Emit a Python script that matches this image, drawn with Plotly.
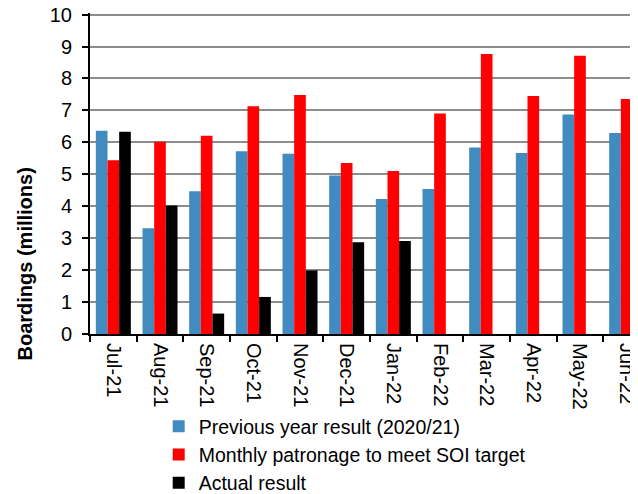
import plotly.graph_objects as go

months = ["Jul-21", "Aug-21", "Sep-21", "Oct-21", "Nov-21", "Dec-21",
          "Jan-22", "Feb-22", "Mar-22", "Apr-22", "May-22", "Jun-22"]
previous_year = [6.36, 3.31, 4.47, 5.72, 5.64, 4.96, 4.23, 4.54, 5.84, 5.67, 6.87, 6.29]
soi_target = [5.44, 6.02, 6.21, 7.13, 7.48, 5.35, 5.10, 6.90, 8.77, 7.45, 8.71, 7.36]
actual = [6.33, 4.02, 0.64, 1.16, 1.99, 2.87, 2.91, None, None, None, None, None]
y_ticks = [0, 1, 2, 3, 4, 5, 6, 7, 8, 9, 10]

FONT = "Liberation Sans, Arial, sans-serif"
FS = 20

# The page body has an 8px default margin, so the figure is 8px smaller each way.
W, H = 630, 486
YMAX = 10.05
B = 159.5
PH = 319.5 * YMAX / 10
T = H - B - PH
L = 82
PW = W - L

fig = go.Figure()
fig.add_trace(go.Bar(x=months, y=previous_year, name="Previous year result (2020/21)",
                     marker=dict(color="#428BC0", line=dict(width=0))))
fig.add_trace(go.Bar(x=months, y=soi_target, name="Monthly patronage to meet SOI target",
                     marker=dict(color="#FF0000", line=dict(width=0))))
fig.add_trace(go.Bar(x=months, y=actual, name="Actual result",
                     marker=dict(color="#000000", line=dict(width=0))))

fig.update_layout(
    width=W, height=H,
    margin=dict(l=L, r=0, t=T, b=B, autoexpand=False),
    paper_bgcolor="white", plot_bgcolor="white",
    barmode="group", bargap=0.25, bargroupgap=0,
    font=dict(family=FONT, size=FS, color="black"),
    showlegend=True,
    legend=dict(orientation="v", x=(150.7 - L) / PW, xanchor="left",
                y=-(399.5 - (H - B)) / PH, yanchor="top",
                font=dict(family=FONT, size=19.5, color="black"),
                bgcolor="rgba(0,0,0,0)", traceorder="normal",
                itemclick=False, itemdoubleclick=False),
)

fig.update_xaxes(
    type="category", range=[-0.5, 11.243], automargin=False,
    showline=True, linecolor="black", linewidth=2,
    ticks="outside", ticklen=6, tickwidth=2, tickcolor="black",
    tickson="boundaries", tickangle=90, ticklabelstandoff=3,
    ticklabeloverflow="allow",
    tickfont=dict(family=FONT, size=FS, color="black"),
    showgrid=False, zeroline=False,
)
fig.update_yaxes(
    range=[0, YMAX], tickmode="array", tickvals=y_ticks,
    ticktext=[str(v) for v in y_ticks], automargin=False,
    showline=True, linecolor="black", linewidth=2,
    ticks="outside", ticklen=6, tickwidth=2, tickcolor="black",
    ticklabelstandoff=6, ticklabeloverflow="allow",
    tickfont=dict(family=FONT, size=FS, color="black"),
    showgrid=True, gridcolor="#8C8C8C", gridwidth=2,
    zeroline=False,
)

fig.add_annotation(
    text="<b>Boardings (millions)</b>", textangle=-90,
    xref="paper", yref="paper", x=(17 - L) / PW, y=((H - B) - 257) / PH,
    xanchor="center", yanchor="middle", showarrow=False,
    font=dict(family=FONT, size=FS, color="black"),
)

fig.write_html("out.html")
